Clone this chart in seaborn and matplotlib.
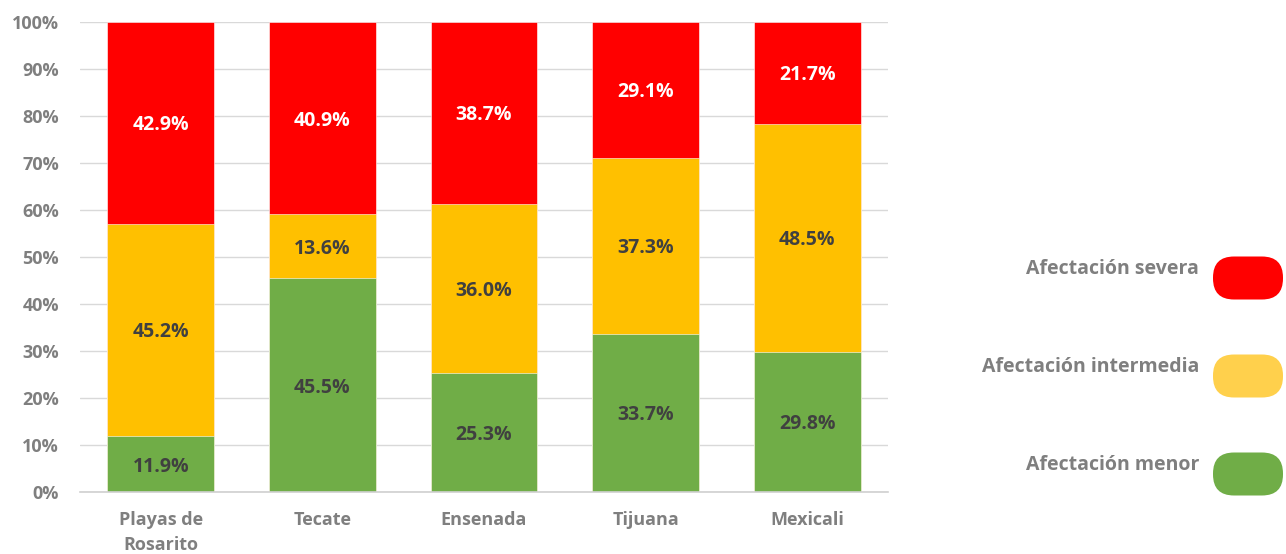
import numpy as np
import pandas as pd
import matplotlib.pyplot as plt
from matplotlib.patches import FancyBboxPatch
import seaborn as sns

# data (percent of each municipality)
municipios = ['Playas de\nRosarito', 'Tecate', 'Ensenada', 'Tijuana', 'Mexicali']
menor = [11.9, 45.5, 25.3, 33.7, 29.8]
intermedia = [45.2, 13.6, 36.0, 37.3, 48.5]
severa = [42.9, 40.9, 38.7, 29.1, 21.7]

series_names = ['Afectación severa', 'Afectación intermedia', 'Afectación menor']
bar_colors = ['#FF0000', '#FFC000', '#70AD47']
legend_colors = ['#FF0000', '#FFD04C', '#70AD47']

sns.set_theme(style='white')
plt.rcParams['font.family'] = ['Open Sans', 'DejaVu Sans']

df = pd.DataFrame({'municipio': municipios, 'menor': menor,
                   'intermedia': intermedia, 'severa': severa})
df['top_menor'] = df['menor']
df['top_inter'] = df['menor'] + df['intermedia']
df['top_severa'] = df['top_inter'] + df['severa']

W, H = 1286, 554
fig = plt.figure(figsize=(W / 100, H / 100), dpi=100)
ax = fig.add_axes([0.0622, 0.1119, 0.6283, 0.8484])

for col, c in zip(['top_severa', 'top_inter', 'top_menor'], bar_colors):
    sns.barplot(data=df, x='municipio', y=col, color=c, width=0.66,
                saturation=1, edgecolor='white', linewidth=0.4, ax=ax, zorder=2)

# segment labels
txt_colors = ['white', '#404040', '#404040']
for i in range(len(municipios)):
    bottoms = [df['top_inter'][i], df['menor'][i], 0]
    vals = [severa[i], intermedia[i], menor[i]]
    for b, v, tc in zip(bottoms, vals, txt_colors):
        ax.text(i, b + v / 2, f'{v:.1f}%', ha='center', va='center_baseline',
                color=tc, fontsize=14, fontweight='bold', zorder=3)

ax.set_ylim(0, 100)
ax.set_xlim(-0.5, len(municipios) - 0.5)
ax.set_yticks(np.arange(0, 101, 10))
ax.set_yticklabels([f'{t}%' for t in range(0, 101, 10)])
ax.yaxis.grid(True, color='#D9D9D9', linewidth=1, zorder=0)
ax.set_axisbelow(True)
for s in ['top', 'right', 'left']:
    ax.spines[s].set_visible(False)
ax.spines['bottom'].set_color('#D0D0D0')
ax.spines['bottom'].set_linewidth(1.2)
ax.tick_params(axis='both', length=0, labelsize=13, labelcolor='#7F7F7F')
ax.tick_params(axis='y', pad=15)
ax.tick_params(axis='x', pad=14)
for lab in ax.get_xticklabels() + ax.get_yticklabels():
    lab.set_fontweight('bold')
for lab in ax.get_xticklabels():
    lab.set_linespacing(1.5)
ax.set_xlabel('')
ax.set_ylabel('')

# legend: rounded pills at the right, drawn on a pixel-unit overlay
lax = fig.add_axes([0, 0, 1, 1], facecolor='none')
lax.set_xlim(0, W)
lax.set_ylim(H, 0)
lax.axis('off')
legend_y = [278, 376, 474]
for name, c, yc in zip(series_names, legend_colors, legend_y):
    pill = FancyBboxPatch((1213, yc - 21.5), 70, 43,
                          boxstyle='round,pad=0,rounding_size=21',
                          facecolor=c, edgecolor='none')
    lax.add_patch(pill)
    lax.text(1199, yc - 9, name, ha='right', va='center',
             fontsize=14, fontweight='bold', color='#7F7F7F')

fig.savefig('out.png', dpi=100)
